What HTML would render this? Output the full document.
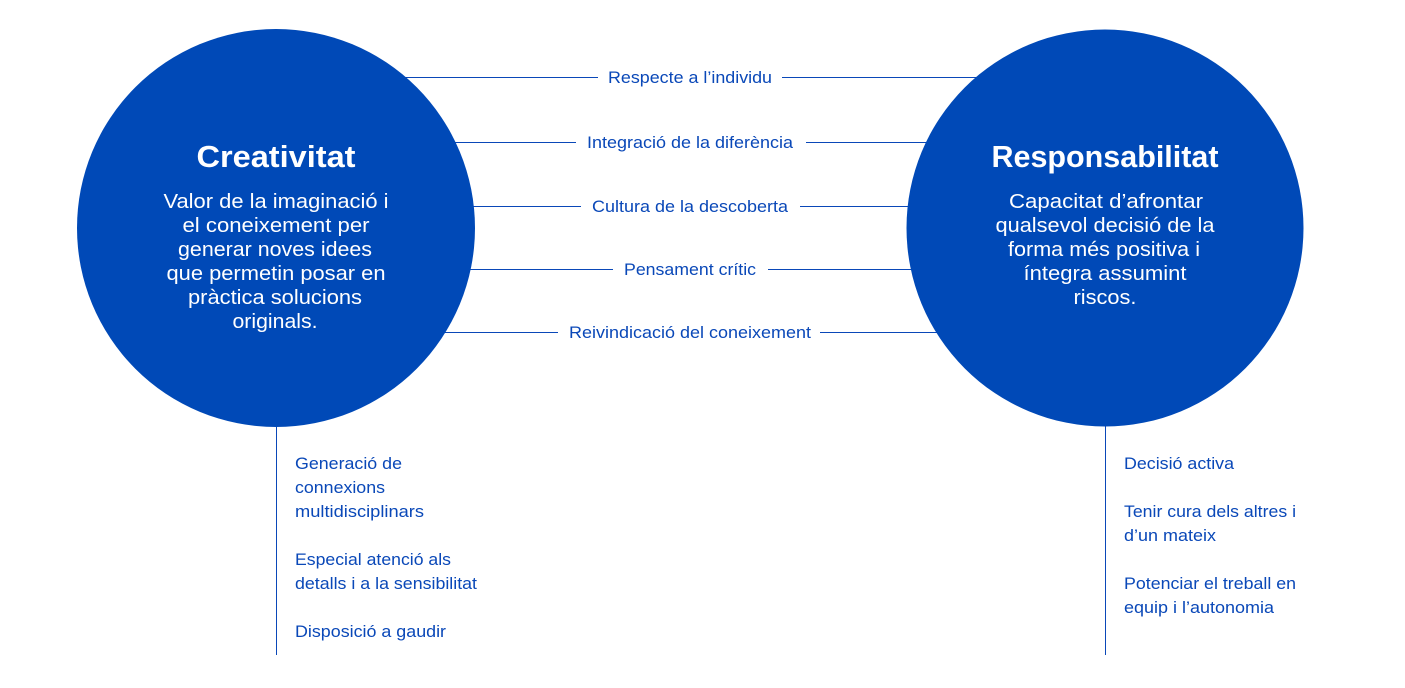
<!DOCTYPE html>
<html><head><meta charset="utf-8"><style>
html,body{margin:0;padding:0;background:#fff;}
svg{display:block;font-family:"Liberation Sans",sans-serif;}
.l{font-size:17px;fill:#0a48b8;}
.c{font-size:20px;fill:#fff;text-anchor:middle;}
.t{font-size:31px;font-weight:bold;fill:#fff;text-anchor:middle;}
</style></head><body>
<svg width="1405" height="688" viewBox="0 0 1405 688">
<g stroke="#0a48b8" stroke-width="1">
<line x1="380" y1="77.5" x2="598" y2="77.5"/><line x1="782" y1="77.5" x2="1000" y2="77.5"/>
<line x1="420" y1="142.5" x2="576" y2="142.5"/><line x1="806" y1="142.5" x2="960" y2="142.5"/>
<line x1="440" y1="206.5" x2="581" y2="206.5"/><line x1="800" y1="206.5" x2="940" y2="206.5"/>
<line x1="440" y1="269.5" x2="613" y2="269.5"/><line x1="768" y1="269.5" x2="940" y2="269.5"/>
<line x1="420" y1="332.5" x2="558" y2="332.5"/><line x1="820" y1="332.5" x2="960" y2="332.5"/>
<line x1="276.5" y1="400" x2="276.5" y2="655"/><line x1="1105.5" y1="400" x2="1105.5" y2="655"/>
</g>
<circle cx="276" cy="228" r="199" fill="#0049b7"/>
<circle cx="1105" cy="228" r="198.5" fill="#0049b7"/>
<g class="l" text-anchor="middle">
<text x="690" y="83" textLength="164" lengthAdjust="spacingAndGlyphs">Respecte a l’individu</text>
<text x="690" y="148" textLength="206" lengthAdjust="spacingAndGlyphs">Integració de la diferència</text>
<text x="690" y="212" textLength="196" lengthAdjust="spacingAndGlyphs">Cultura de la descoberta</text>
<text x="690" y="275" textLength="132" lengthAdjust="spacingAndGlyphs">Pensament crític</text>
<text x="690" y="338" textLength="242" lengthAdjust="spacingAndGlyphs">Reivindicació del coneixement</text>
</g>
<text class="t" x="276" y="167" textLength="159" lengthAdjust="spacingAndGlyphs">Creativitat</text>
<g class="c">
<text x="276" y="208" textLength="225" lengthAdjust="spacingAndGlyphs">Valor de la imaginació i</text>
<text x="276" y="232" textLength="187" lengthAdjust="spacingAndGlyphs">el coneixement per</text>
<text x="275" y="256" textLength="194" lengthAdjust="spacingAndGlyphs">generar noves idees</text>
<text x="276" y="280" textLength="219" lengthAdjust="spacingAndGlyphs">que permetin posar en</text>
<text x="275" y="304" textLength="174" lengthAdjust="spacingAndGlyphs">pràctica solucions</text>
<text x="275" y="328" textLength="85" lengthAdjust="spacingAndGlyphs">originals.</text>
</g>
<text class="t" x="1105" y="167" textLength="227" lengthAdjust="spacingAndGlyphs">Responsabilitat</text>
<g class="c">
<text x="1106" y="208" textLength="194" lengthAdjust="spacingAndGlyphs">Capacitat d’afrontar</text>
<text x="1105" y="232" textLength="219" lengthAdjust="spacingAndGlyphs">qualsevol decisió de la</text>
<text x="1104" y="256" textLength="192" lengthAdjust="spacingAndGlyphs">forma més positiva i</text>
<text x="1105" y="280" textLength="163" lengthAdjust="spacingAndGlyphs">íntegra assumint</text>
<text x="1105" y="304" textLength="63" lengthAdjust="spacingAndGlyphs">riscos.</text>
</g>
<g class="l">
<text x="295" y="469" textLength="107" lengthAdjust="spacingAndGlyphs">Generació de</text>
<text x="295" y="493" textLength="90" lengthAdjust="spacingAndGlyphs">connexions</text>
<text x="295" y="517" textLength="129" lengthAdjust="spacingAndGlyphs">multidisciplinars</text>
<text x="295" y="565" textLength="156" lengthAdjust="spacingAndGlyphs">Especial atenció als</text>
<text x="295" y="589" textLength="182" lengthAdjust="spacingAndGlyphs">detalls i a la sensibilitat</text>
<text x="295" y="637" textLength="151" lengthAdjust="spacingAndGlyphs">Disposició a gaudir</text>
<text x="1124" y="469" textLength="110" lengthAdjust="spacingAndGlyphs">Decisió activa</text>
<text x="1124" y="517" textLength="172" lengthAdjust="spacingAndGlyphs">Tenir cura dels altres i</text>
<text x="1124" y="541" textLength="92" lengthAdjust="spacingAndGlyphs">d’un mateix</text>
<text x="1124" y="589" textLength="172" lengthAdjust="spacingAndGlyphs">Potenciar el treball en</text>
<text x="1124" y="613" textLength="150" lengthAdjust="spacingAndGlyphs">equip i l’autonomia</text>
</g>
</svg>
</body></html>
